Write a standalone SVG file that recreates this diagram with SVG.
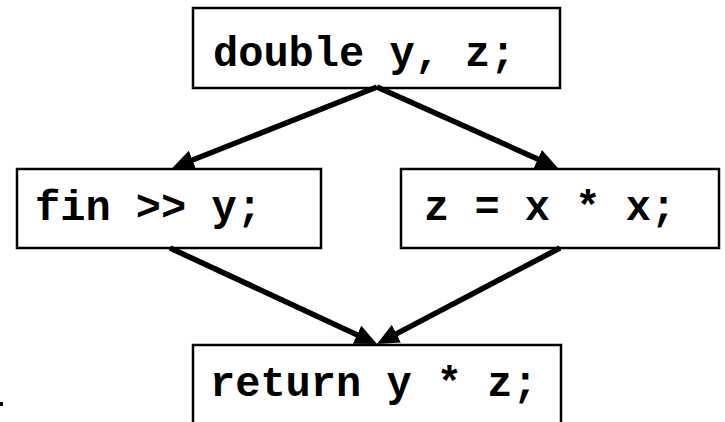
<svg xmlns="http://www.w3.org/2000/svg" width="725" height="422" viewBox="0 0 725 422">
<style>
.box{fill:#fff;stroke:#000;stroke-width:2.5}
.lbl{font-family:"Courier New","Liberation Mono",monospace;font-weight:bold;font-size:42px;fill:#000}
.edge{stroke:#000;stroke-width:5.5;fill:none}
</style>
<defs>
<marker id="ah" viewBox="0 0 22 20" refX="4" refY="10" markerWidth="22" markerHeight="20" markerUnits="userSpaceOnUse" orient="auto">
<path d="M0,0 L22,10 L0,20 z" fill="#000"/>
</marker>
</defs>
<rect x="0" y="0" width="725" height="422" fill="#fff"/>
<g id="n-decl"><rect class="box" x="193" y="8" width="367" height="80"/><text class="lbl" x="213" y="66">double y, z;</text></g>
<g id="n-fin"><rect class="box" x="17" y="169" width="304" height="79"/><text class="lbl" x="35" y="220">fin &gt;&gt; y;</text></g>
<g id="n-z"><rect class="box" x="401" y="169" width="318" height="79"/><text class="lbl" x="424" y="220">z = x * x;</text></g>
<g id="n-ret"><rect class="box" x="193" y="345" width="368" height="90"/><text class="lbl" x="210" y="396">return y * z;</text></g>
<g id="connectors">
<line class="edge" x1="377" y1="87" x2="188.8" y2="161.5" marker-end="url(#ah)"/>
<line class="edge" x1="377" y1="87" x2="541.5" y2="160.7" marker-end="url(#ah)"/>
<line class="edge" x1="170" y1="248" x2="360.7" y2="336.4" marker-end="url(#ah)"/>
<line class="edge" x1="560" y1="248" x2="392.9" y2="335.6" marker-end="url(#ah)"/>
</g>
<rect x="0" y="402" width="3" height="4" fill="#000"/>
</svg>
